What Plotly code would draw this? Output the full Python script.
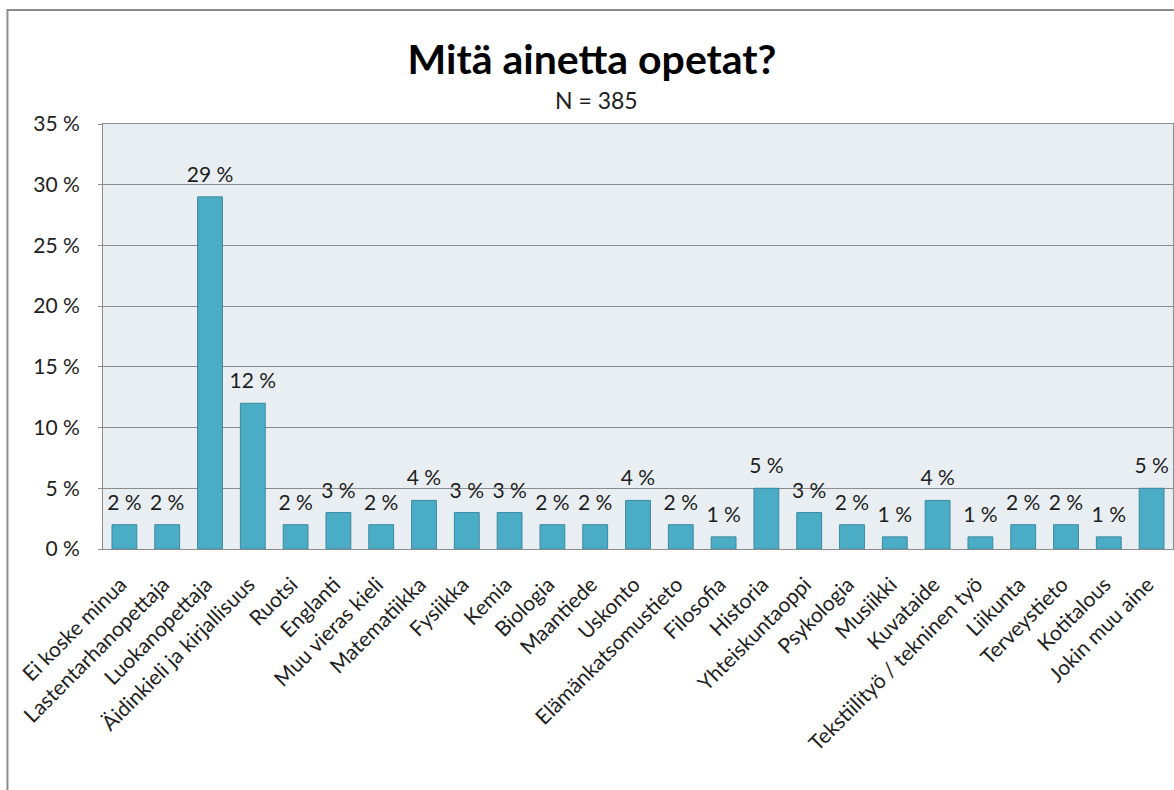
import plotly.graph_objects as go

# Data
subjects = [
    "Ei koske minua", "Lastentarhanopettaja", "Luokanopettaja",
    "Äidinkieli ja kirjallisuus", "Ruotsi", "Englanti", "Muu vieras kieli",
    "Matematiikka", "Fysiikka", "Kemia", "Biologia", "Maantiede", "Uskonto",
    "Elämänkatsomustieto", "Filosofia", "Historia", "Yhteiskuntaoppi",
    "Psykologia", "Musiikki", "Kuvataide", "Tekstiilityö / tekninen työ",
    "Liikunta", "Terveystieto", "Kotitalous", "Jokin muu aine",
]
shares = [2, 2, 29, 12, 2, 3, 2, 4, 3, 3, 2, 2, 4, 2, 1, 5, 3, 2, 1, 4, 1, 2, 2, 1, 5]
y_ticks = [0, 5, 10, 15, 20, 25, 30, 35]
y_tick_text = [f"{v} %" for v in y_ticks]
bar_text = [f"{v} %" for v in shares]

FONT = "Lato, 'Open Sans', sans-serif"
BAR = "#4bacc6"
GRID = "#8c8c8c"
TXT = "#1e1e1e"

fig = go.Figure()
fig.add_trace(go.Bar(
    x=subjects,
    y=shares,
    marker=dict(color=BAR, line=dict(color="#3a8aa0", width=1)),
    hoverinfo="x+y",
))
# value labels sit a bit higher above the bars than plotly's default
fig.add_trace(go.Scatter(
    x=subjects,
    y=shares,
    mode="markers+text",
    marker=dict(size=14, opacity=0),
    text=bar_text,
    textposition="top center",
    textfont=dict(family=FONT, size=21, color=TXT),
    cliponaxis=False,
    hoverinfo="skip",
))

fig.update_layout(
    width=1174, height=790,
    paper_bgcolor="white",
    plot_bgcolor="#e8eef2",
    bargap=0.42,
    showlegend=False,
    margin=dict(l=103, r=1, t=124, b=241),
    title=dict(
        text="<b>Mitä ainetta opetat?</b>",
        font=dict(family=FONT, size=41, color="black"),
        x=0.457, xref="paper", xanchor="center",
        y=0.924, yref="container", yanchor="middle",
    ),
    annotations=[dict(
        text="N = 385", xref="paper", yref="paper",
        x=0.461, y=1.0565, yanchor="middle", showarrow=False,
        font=dict(family=FONT, size=23, color=TXT),
    )],
    shapes=[dict(
        type="rect", xref="paper", yref="paper",
        x0=-0.0893, x1=1.2, y0=-1.0, y1=1.268,
        line=dict(color="#8c8c8c", width=2), layer="below",
    )],
    xaxis=dict(
        range=[-0.5, len(subjects) - 0.5],
        tickangle=-45,
        tickfont=dict(family=FONT, size=21, color=TXT),
        showline=True, linecolor=GRID, linewidth=1, mirror=True,
        ticks="",
        ticklabelstandoff=14, ticklabelshift=-4,
    ),
    yaxis=dict(
        range=[0, 35],
        tickvals=y_ticks, ticktext=y_tick_text,
        tickfont=dict(family=FONT, size=21, color=TXT),
        showgrid=True, gridcolor=GRID, gridwidth=1,
        showline=True, linecolor=GRID, linewidth=1, mirror=True,
        zeroline=False,
        ticks="outside", ticklen=4, tickcolor=GRID,
        ticklabelstandoff=14,
    ),
)

fig.write_html(
    "out.html",
    config={"displayModeBar": False},
    post_script="document.body.style.margin='0';",
)
